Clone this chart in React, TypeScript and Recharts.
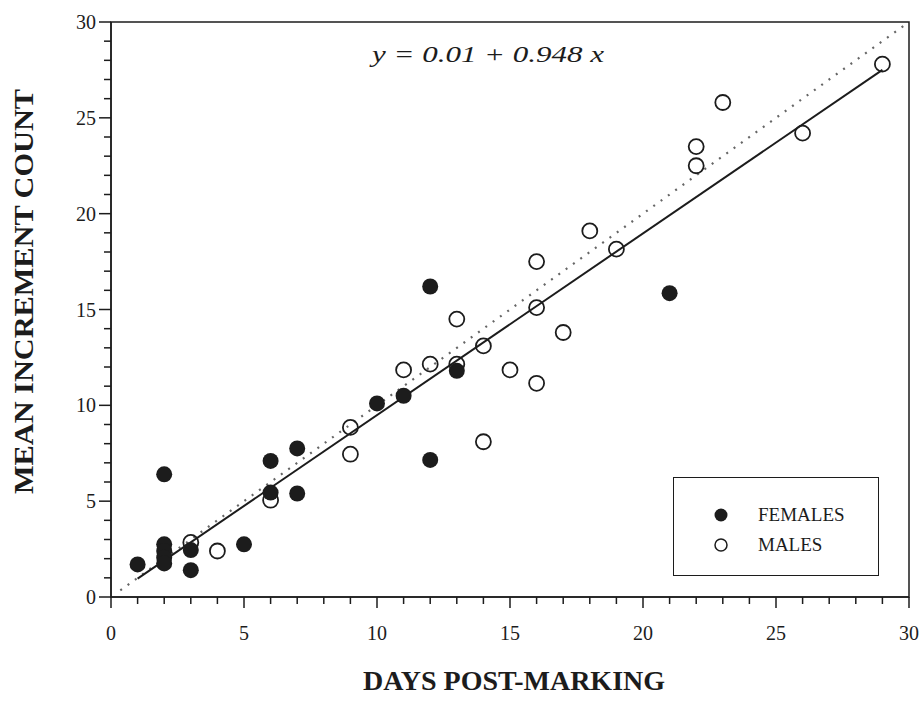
import {
  Customized,
  Legend,
  ReferenceArea,
  ReferenceLine,
  Scatter,
  ScatterChart,
  XAxis,
  YAxis,
} from "recharts";

// days post-marking / mean increment count
const femaleDays = [1, 2, 2, 2, 2, 2, 3, 3, 5, 6, 6, 7, 7, 10, 11, 12, 12, 13, 21];
const femaleCounts = [1.7, 6.4, 2.75, 2.4, 2.05, 1.75, 2.45, 1.4, 2.75, 7.1, 5.45, 7.75, 5.4, 10.1, 10.5, 16.2, 7.15, 11.8, 15.85];

const maleDays = [3, 4, 6, 9, 9, 11, 12, 13, 13, 14, 14, 15, 16, 16, 16, 17, 18, 19, 22, 22, 23, 26, 29];
const maleCounts = [2.85, 2.4, 5.05, 8.85, 7.45, 11.85, 12.15, 12.15, 14.5, 13.1, 8.1, 11.85, 11.15, 15.1, 17.5, 13.8, 19.1, 18.15, 23.5, 22.5, 25.8, 24.2, 27.8];

// fitted line ends and the 1:1 line
const fitDays = [1, 29];
const fitCounts = [0.96, 27.5];
const identityDays = [0.35, 30];
const identityCounts = [0.35, 30];

const xTicks = Array.from({ length: 31 }, (_, i) => i);
const yTicks = Array.from({ length: 31 }, (_, i) => i);
const majorStep = 5;

const legendOrder = ["FEMALES", "MALES"];
const equation = "y = 0.01 + 0.948 x";

const INK = "#1c1c1c";
const SERIF = "'Liberation Serif', 'Times New Roman', serif";

const females = femaleDays.map((d, i) => ({ x: d, y: femaleCounts[i] }));
const males = maleDays.map((d, i) => ({ x: d, y: maleCounts[i] }));

function XTick(props: any) {
  const { x, y, payload } = props;
  const major = payload.value % majorStep === 0;
  return (
    <g>
      <line x1={x} y1={y} x2={x} y2={y + (major ? 11 : 7)} stroke={INK} strokeWidth={1.5} />
      {major && (
        <text x={x} y={y + 43} textAnchor="middle" fontFamily={SERIF} fontSize={20} fill={INK}>
          {payload.value}
        </text>
      )}
    </g>
  );
}

function YTick(props: any) {
  const { x, y, payload } = props;
  const major = payload.value % majorStep === 0;
  return (
    <g>
      <line x1={x} y1={y} x2={x - (major ? 12 : 7)} y2={y} stroke={INK} strokeWidth={1.5} />
      {major && (
        <text x={x - 15} y={y + 7} textAnchor="end" fontFamily={SERIF} fontSize={20} fill={INK}>
          {payload.value}
        </text>
      )}
    </g>
  );
}

function LegendBox({ payload }: any) {
  const items = [...(payload ?? [])].sort(
    (a: any, b: any) => legendOrder.indexOf(a.value) - legendOrder.indexOf(b.value)
  );
  return (
    <div
      style={{
        width: 206,
        height: 99,
        border: `1.5px solid ${INK}`,
        boxSizing: "border-box",
        paddingTop: 22,
        fontFamily: SERIF,
        fontSize: 19,
        color: INK,
      }}
    >
      {items.map((item: any) => (
        <div key={item.value} style={{ display: "flex", alignItems: "center", height: 30 }}>
          <svg width={84} height={30}>
            {item.value === "FEMALES" ? (
              <circle cx={47} cy={15} r={6.5} fill={INK} />
            ) : (
              <circle cx={47} cy={15} r={6} fill="#fff" stroke={INK} strokeWidth={1.5} />
            )}
          </svg>
          <span>{item.value}</span>
        </div>
      ))}
    </div>
  );
}

export default function App() {
  return (
    <div style={{ position: "absolute", left: 0, top: 0, background: "#fff" }}>
      <ScatterChart width={923} height={703} margin={{ top: 22, right: 14, bottom: 66, left: 51 }}>
        <ReferenceArea x1={0} x2={30} y1={0} y2={30} fill="none" stroke={INK} strokeWidth={1.5} />
        <XAxis
          type="number"
          dataKey="x"
          domain={[0, 30]}
          ticks={xTicks}
          interval={0}
          tickSize={0}
          tickMargin={0}
          tickLine={false}
          axisLine={{ stroke: INK, strokeWidth: 1.5 }}
          tick={(p: any) => <XTick {...p} />}
          height={40}
          allowDataOverflow
          label={{
            content: ({ viewBox }: any) => (
              <text
                x={viewBox.x + viewBox.width / 2 + 4}
                y={690}
                textAnchor="middle"
                fontFamily={SERIF}
                fontWeight="bold"
                fontSize={28}
                fill={INK}
              >
                DAYS POST-MARKING
              </text>
            ),
          }}
        />
        <YAxis
          type="number"
          dataKey="y"
          domain={[0, 30]}
          ticks={yTicks}
          interval={0}
          tickSize={0}
          tickMargin={0}
          tickLine={false}
          axisLine={{ stroke: INK, strokeWidth: 1.5 }}
          tick={(p: any) => <YTick {...p} />}
          width={60}
          allowDataOverflow
          label={{
            content: ({ viewBox }: any) => {
              const cy = viewBox.y + viewBox.height / 2 - 18;
              return (
                <text
                  x={33}
                  y={cy}
                  transform={`rotate(-90, 33, ${cy})`}
                  textAnchor="middle"
                  fontFamily={SERIF}
                  fontWeight="bold"
                  fontSize={28}
                  textLength={405}
                  lengthAdjust="spacingAndGlyphs"
                  fill={INK}
                >
                  MEAN INCREMENT COUNT
                </text>
              );
            },
          }}
        />
        <ReferenceLine
          segment={[
            { x: identityDays[0], y: identityCounts[0] },
            { x: identityDays[1], y: identityCounts[1] },
          ]}
          stroke="#666"
          strokeWidth={2.2}
          strokeDasharray="2 7"
        />
        <ReferenceLine
          segment={[
            { x: fitDays[0], y: fitCounts[0] },
            { x: fitDays[1], y: fitCounts[1] },
          ]}
          stroke={INK}
          strokeWidth={2}
        />
        <Scatter
          name="MALES"
          data={males}
          isAnimationActive={false}
          shape={(p: any) => (
            <circle cx={p.cx} cy={p.cy} r={7.5} fill="#fff" fillOpacity={0} stroke={INK} strokeWidth={1.8} />
          )}
        />
        <Scatter
          name="FEMALES"
          data={females}
          isAnimationActive={false}
          shape={(p: any) => <circle cx={p.cx} cy={p.cy} r={8} fill={INK} />}
        />
        <Legend
          layout="horizontal"
          align="center"
          verticalAlign="middle"
          wrapperStyle={{ position: "absolute", left: 673, top: 477, width: 206, height: 99 }}
          content={(p: any) => <LegendBox {...p} />}
        />
        <Customized
          component={() => (
            <text
              x={488}
              y={62}
              textAnchor="middle"
              fontFamily={SERIF}
              fontStyle="italic"
              fontSize={24}
              textLength={232}
              lengthAdjust="spacingAndGlyphs"
              fill={INK}
            >
              {equation}
            </text>
          )}
        />
      </ScatterChart>
    </div>
  );
}
